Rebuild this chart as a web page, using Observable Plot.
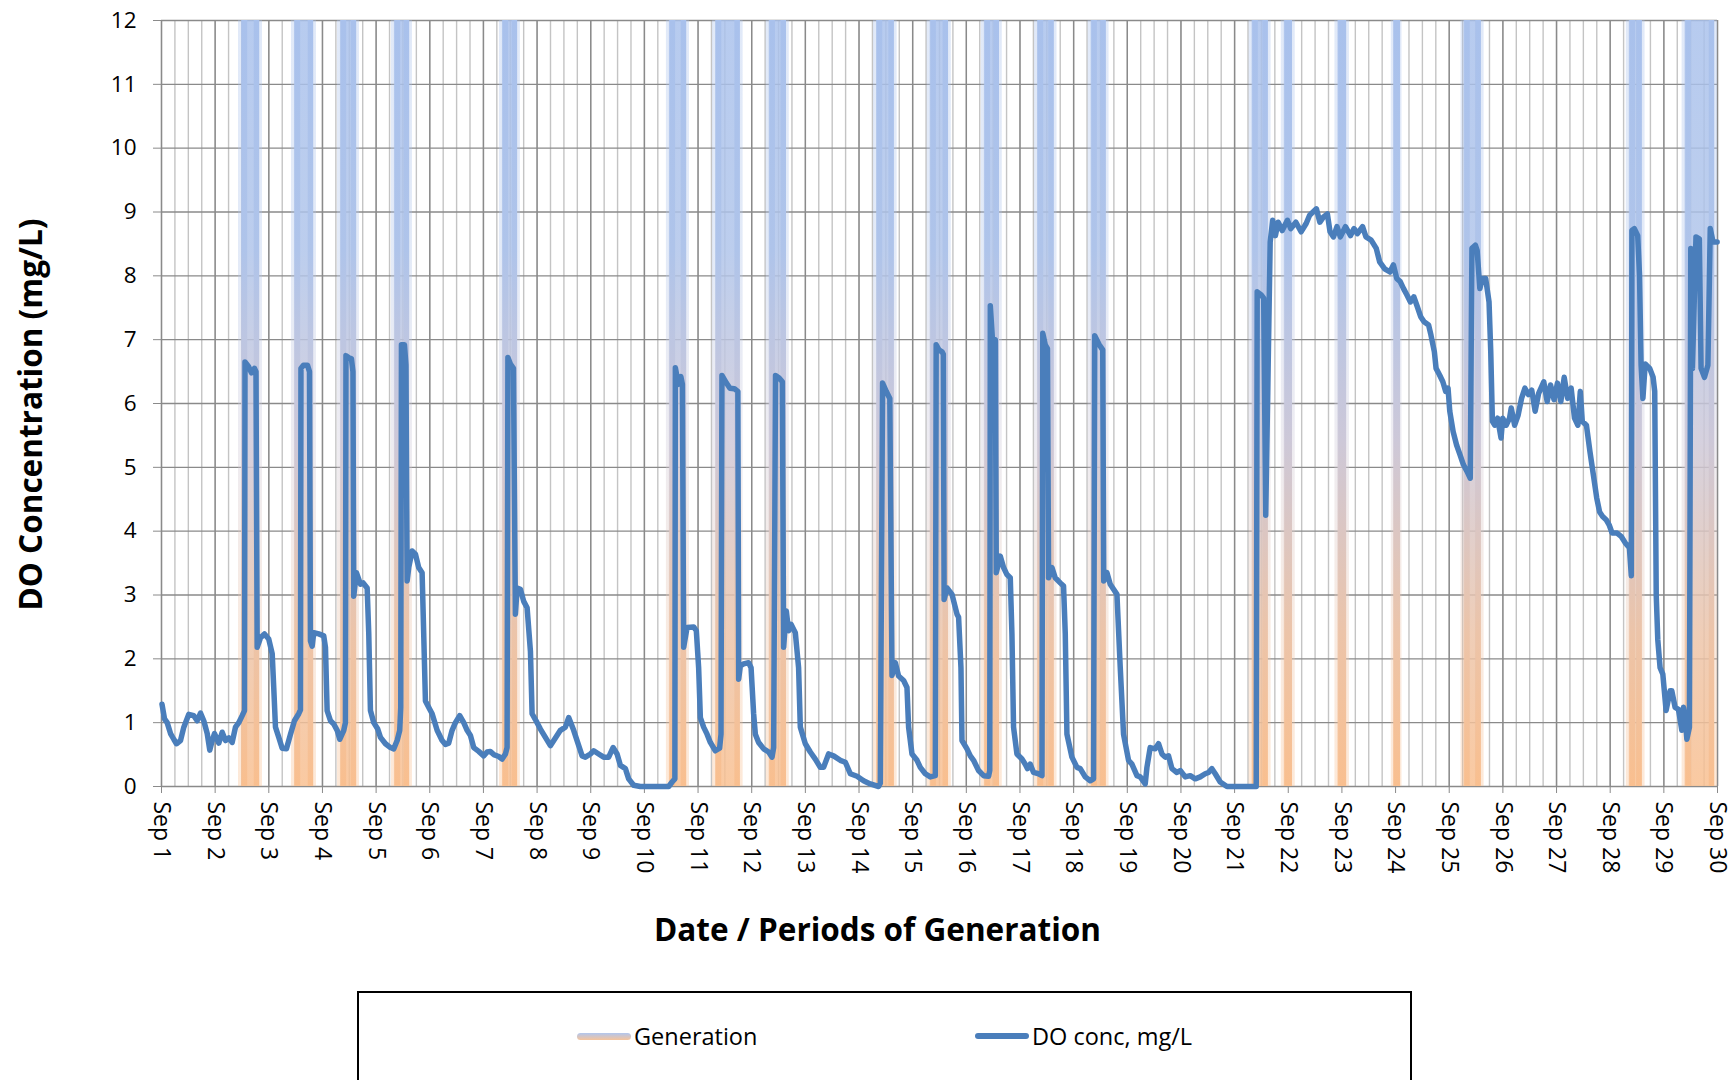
<!DOCTYPE html>
<html><head><meta charset="utf-8">
<script src="https://cdn.jsdelivr.net/npm/d3@7"></script>
<script src="https://cdn.jsdelivr.net/npm/@observablehq/plot@0.6"></script>
<style>
body{margin:0;background:#fff;width:1736px;height:1080px;overflow:hidden;position:relative;font-family:'Open Sans',sans-serif;}
#chart{position:absolute;left:0;top:0;}
#legend{position:absolute;left:357px;top:991px;width:1055px;height:150px;border:2px solid #000;box-sizing:border-box;background:#fff;}
.item{position:absolute;top:27px;height:32px;display:flex;align-items:center;font-size:23.5px;color:#000;white-space:nowrap;}
.sw{width:54px;height:7px;border-radius:3.5px;margin-right:3px;}
</style></head><body>
<div id="chart"></div>
<div id="legend">
  <div class="item" style="left:218px"><div class="sw" style="background:linear-gradient(to bottom,#b1c6ee,#f6c49c)"></div><span>Generation</span></div>
  <div class="item" style="left:616px"><div class="sw" style="background:#4a7ebb;height:6px"></div><span>DO conc, mg/L</span></div>
</div>
<script>
// ---- data (day of September, fractional) ----
const doDay = [1.009,1.056,1.106,1.168,1.229,1.279,1.354,1.416,1.509,1.602,1.665,1.727,1.788,1.852,1.900,1.945,1.988,2.068,2.131,2.193,2.254,2.317,2.379,2.440,2.504,2.547,
2.556,2.621,2.677,2.733,2.761,2.783,2.845,2.919,2.999,3.063,3.092,3.124,3.186,3.249,3.329,3.404,3.478,3.558,3.590,
3.599,3.646,3.720,3.758,3.776,3.808,3.838,3.931,4.024,4.056,4.087,4.149,4.210,4.274,4.322,4.397,4.428,
4.438,4.484,4.540,4.568,4.583,4.633,4.708,4.758,4.833,4.863,4.894,4.956,5.030,5.081,5.174,5.267,5.328,5.392,5.440,5.459,
5.472,5.528,5.556,5.578,5.608,5.671,5.733,5.794,5.857,5.887,5.919,5.999,6.044,6.137,6.230,6.292,6.353,6.416,6.478,6.558,6.633,6.696,6.758,6.819,6.912,7.005,7.069,7.130,7.192,7.285,7.348,7.410,7.441,
7.456,7.503,7.559,7.596,7.628,7.689,7.751,7.814,7.876,7.907,8.000,8.062,8.155,8.248,8.434,8.527,8.589,8.682,8.745,8.839,8.900,8.993,9.055,9.148,9.241,9.334,9.416,9.491,9.553,9.646,9.707,9.800,9.925,10.453,10.516,10.568,
10.577,10.633,10.680,10.708,10.732,10.795,10.918,10.968,11.011,11.043,11.104,11.168,11.229,11.322,11.402,11.428,
11.445,11.529,11.594,11.678,11.742,11.757,11.788,11.850,11.943,11.988,12.036,12.068,12.129,12.223,12.316,12.379,12.409,
12.444,12.511,12.571,12.595,12.645,12.688,12.733,12.813,12.874,12.906,12.999,13.092,13.185,13.278,13.340,13.433,13.526,13.651,13.745,13.838,13.963,14.085,14.210,14.365,14.397,
14.439,14.507,14.574,14.615,14.676,14.738,14.831,14.894,14.924,14.987,15.081,15.142,15.235,15.329,15.422,
15.438,15.489,15.547,15.571,15.586,15.640,15.733,15.826,15.856,15.900,15.919,16.012,16.074,16.135,16.228,16.322,16.415,16.437,
16.447,16.486,16.540,16.558,16.632,16.694,16.757,16.819,16.850,16.880,16.943,17.037,17.098,17.141,17.191,17.253,17.346,17.410,
17.425,17.471,17.512,17.533,17.596,17.657,17.750,17.812,17.844,17.875,17.968,18.062,18.123,18.216,18.309,18.371,
18.393,18.477,18.542,18.561,18.621,18.682,18.744,18.807,18.869,18.930,19.023,19.086,19.180,19.241,19.334,19.366,19.427,19.520,19.582,19.646,19.707,19.769,19.832,19.925,19.987,20.080,20.173,20.266,20.359,20.452,20.514,20.577,20.639,20.732,20.857,21.403,
21.421,21.496,21.542,21.580,21.663,21.710,21.760,21.812,21.887,21.984,22.047,22.142,22.239,22.334,22.398,22.461,22.524,22.589,22.653,22.729,22.779,22.843,22.908,22.971,23.066,23.161,23.226,23.289,23.385,23.448,23.545,23.640,23.703,23.798,23.895,23.959,24.022,24.085,24.149,24.212,24.277,24.341,24.404,24.468,24.531,24.615,24.660,24.723,24.755,24.818,24.881,24.934,24.978,25.010,25.073,25.137,25.200,25.265,25.329,25.392,
25.423,25.487,25.520,25.571,25.615,25.679,25.742,25.774,25.805,25.850,25.902,25.966,25.997,26.061,26.124,26.156,26.219,26.285,26.348,26.411,26.475,26.538,26.601,26.667,26.762,26.825,26.888,26.953,27.017,27.080,27.143,27.207,27.272,27.335,27.398,27.443,27.480,27.557,27.622,27.685,27.749,27.803,27.859,27.924,27.980,28.036,28.129,28.203,28.278,28.358,28.394,
28.405,28.450,28.513,28.547,28.576,28.610,28.653,28.737,28.800,28.830,28.858,28.887,28.930,28.981,29.042,29.117,29.148,29.210,29.272,29.335,29.366,29.397,29.429,29.477,
29.502,29.533,29.599,29.662,29.694,29.757,29.821,29.865,29.917,29.993];

const doValue = [1.29,1.06,1.00,0.83,0.74,0.67,0.72,0.93,1.13,1.11,1.03,1.15,1.03,0.83,0.57,0.72,0.83,0.68,0.85,0.72,0.76,0.69,0.93,1.00,1.11,1.19,
6.65,6.58,6.48,6.55,6.50,2.18,2.33,2.39,2.31,2.08,1.55,0.93,0.77,0.60,0.59,0.82,1.03,1.14,1.20,
6.55,6.60,6.60,6.50,2.28,2.20,2.41,2.39,2.36,2.18,1.19,1.03,0.98,0.88,0.74,0.88,1.00,
6.75,6.72,6.70,6.50,2.98,3.35,3.17,3.19,3.11,2.39,1.19,1.00,0.90,0.77,0.67,0.61,0.59,0.72,0.88,1.24,
6.92,6.92,6.60,3.22,3.43,3.69,3.64,3.43,3.35,2.39,1.34,1.21,1.14,0.88,0.72,0.66,0.68,0.88,1.00,1.11,1.00,0.88,0.80,0.61,0.55,0.48,0.54,0.55,0.50,0.47,0.43,0.51,0.61,
6.72,6.62,6.55,2.70,3.11,3.09,2.90,2.80,2.12,1.14,1.00,0.90,0.77,0.64,0.88,0.93,1.08,0.88,0.72,0.48,0.46,0.51,0.56,0.51,0.46,0.46,0.61,0.51,0.33,0.28,0.12,0.02,0.00,0.00,0.07,0.12,
6.56,6.30,6.42,6.30,2.18,2.49,2.50,2.44,1.86,1.08,0.93,0.82,0.69,0.56,0.60,0.82,
6.44,6.32,6.24,6.23,6.19,1.68,1.89,1.92,1.94,1.86,1.14,0.82,0.69,0.59,0.54,0.46,0.61,
6.44,6.40,6.34,2.18,2.75,2.44,2.54,2.41,1.86,0.93,0.67,0.54,0.43,0.30,0.30,0.51,0.48,0.41,0.38,0.20,0.16,0.09,0.04,0.00,0.05,
6.32,6.19,6.08,1.74,1.94,1.73,1.66,1.55,0.93,0.51,0.41,0.30,0.20,0.15,0.17,
6.92,6.84,6.81,6.77,2.93,3.11,3.01,2.70,2.65,1.86,0.72,0.59,0.48,0.41,0.25,0.17,0.16,0.25,
7.53,7.02,7.00,3.35,3.61,3.43,3.32,3.27,2.39,0.93,0.51,0.43,0.35,0.28,0.35,0.22,0.20,0.17,
7.10,6.92,6.86,3.27,3.43,3.27,3.19,3.14,2.39,0.82,0.46,0.30,0.28,0.15,0.09,0.12,
7.06,6.92,6.84,3.22,3.35,3.17,3.09,3.01,1.86,0.82,0.41,0.35,0.17,0.15,0.04,0.30,0.61,0.59,0.67,0.51,0.46,0.48,0.28,0.22,0.25,0.15,0.17,0.12,0.15,0.20,0.22,0.28,0.20,0.07,0.00,0.00,
7.75,7.70,7.65,4.25,8.53,8.87,8.63,8.84,8.71,8.87,8.74,8.84,8.69,8.82,8.95,9.00,9.05,8.84,8.92,8.97,8.69,8.61,8.77,8.61,8.77,8.63,8.74,8.66,8.77,8.61,8.56,8.43,8.22,8.11,8.06,8.17,7.96,7.91,7.80,7.70,7.59,7.67,7.52,7.36,7.28,7.23,7.07,6.81,6.55,6.45,6.34,6.19,6.24,5.88,5.56,5.35,5.20,5.04,4.94,4.83,
8.43,8.48,8.40,7.80,7.96,7.96,7.59,6.81,5.72,5.66,5.77,5.46,5.77,5.66,5.77,5.93,5.66,5.82,6.08,6.24,6.14,6.21,5.88,6.16,6.34,6.03,6.29,6.06,6.32,6.03,6.41,6.08,6.24,5.77,5.66,6.19,5.72,5.66,5.25,4.89,4.52,4.30,4.23,4.18,4.10,3.97,3.97,3.92,3.82,3.74,3.30,
8.71,8.74,8.63,8.00,6.60,6.08,6.62,6.55,6.41,6.19,3.00,2.30,1.86,1.76,1.19,1.50,1.50,1.24,1.21,0.88,1.24,1.08,0.74,0.93,
8.43,6.55,8.61,8.58,6.55,6.41,6.60,8.74,8.53,8.53];

// generation periods (start / end, day of September)
const genStart = [2.435,3.422,4.279,5.285,7.298,10.41,11.27,12.27,14.27,15.27,16.28,17.27,18.27,21.27,21.87,22.87,23.92,25.22,28.30,29.34];
const genEnd   = [2.882,3.888,4.689,5.677,7.689,10.84,11.84,12.70,14.71,15.72,16.67,17.69,18.66,21.68,22.13,23.14,24.12,25.65,28.65,30.00];

const yTicks = [0,1,2,3,4,5,6,7,8,9,10,11,12];
const dayTicks = d3.range(1, 31);
const monthName = "Sep";
const yTitle = "DO Concentration (mg/L)";
const xTitle = "Date / Periods of Generation";

// ---- build ----
const base = Date.UTC(2013, 8, 1);
const toDate = d => new Date(base + (d - 1) * 864e5);
const doData = doDay.map((d, i) => ({t: toDate(d), v: doValue[i]}));
const gen = genStart.map((s, i) => ({s: toDate(s), e: toDate(genEnd[i])}));
const dayDates = dayTicks.map(toDate);
const quarterDates = d3.utcHour.every(6).range(toDate(1), toDate(30.01));

const W = 1736, H = 990, mT = 20, mB = 204, mL = 161, mR = 19;
const grid = "#8a8a8a";

const chart = Plot.plot({
  width: W, height: H, marginTop: mT, marginBottom: mB, marginLeft: mL, marginRight: mR,
  style: {fontFamily: "'Open Sans', sans-serif", fontSize: "22px", color: "#000", background: "transparent", overflow: "visible"},
  x: {type: "utc", domain: [toDate(1), toDate(30)]},
  y: {domain: [0, 12]},
  marks: [
    Plot.gridX(quarterDates, {stroke: "#c4c4c4", strokeOpacity: 1, strokeWidth: 1.4}),
    Plot.gridX(dayDates, {stroke: grid, strokeOpacity: 1, strokeWidth: 1.4}),
    Plot.gridY(yTicks, {stroke: grid, strokeOpacity: 1, strokeWidth: 1.4}),
    Plot.rect(gen, {x1: "s", x2: "e", y1: 0, y2: 12, fill: "url(#genGrad)", fillOpacity: 0.35}),
    Plot.rect(gen, {x1: "s", x2: "e", y1: 0, y2: 12, insetLeft: 3, insetRight: 3, fill: "url(#genGrad)", fillOpacity: 0.75}),
    Plot.ruleX(gen, {x: "s", y1: 0, y2: 12, dx: 6, stroke: "url(#genGrad)", strokeWidth: 5.5}),
    Plot.ruleX(gen, {x: "e", y1: 0, y2: 12, dx: -6, stroke: "url(#genGrad)", strokeWidth: 5.5}),
    Plot.axisY(yTicks, {tickSize: 8, tickPadding: 17, fontSize: 22.5, tickFormat: d => String(d), stroke: grid, fill: "#000", label: null}),
    Plot.axisX(dayDates, {tickSize: 7, tickPadding: 8, tickRotate: 90, fontSize: 23, tickFormat: d => `${monthName} ${d.getUTCDate()}`, stroke: grid, fill: "#000", label: null}),
    Plot.line(doData, {x: "t", y: "v", stroke: "#4a7ebb", strokeWidth: 5.5, strokeLinejoin: "round", strokeLinecap: "round"}),
    Plot.text([yTitle], {frameAnchor: "left", textAnchor: "middle", lineAnchor: "middle", dx: -130, dy: 11, rotate: -90, fontSize: 31.5, fontWeight: "bold", fill: "#000"}),
    Plot.text([xTitle], {frameAnchor: "bottom", textAnchor: "middle", lineAnchor: "middle", dx: -62, dy: 144, fontSize: 31.5, fontWeight: "bold", fill: "#000"})
  ]
});

const svg = d3.select(chart);
const lg = svg.insert("defs", ":first-child").append("linearGradient")
  .attr("id", "genGrad").attr("gradientUnits", "userSpaceOnUse")
  .attr("x1", 0).attr("x2", 0).attr("y1", mT).attr("y2", H - mB);
[[0, "#a9c1ec"], [0.3, "#afc4ea"], [0.55, "#cdc8d8"], [0.8, "#ecc4a9"], [1, "#f9bf8f"]]
  .forEach(([o, c]) => lg.append("stop").attr("offset", o).attr("stop-color", c));

document.getElementById("chart").appendChild(chart);
</script>
</body></html>
